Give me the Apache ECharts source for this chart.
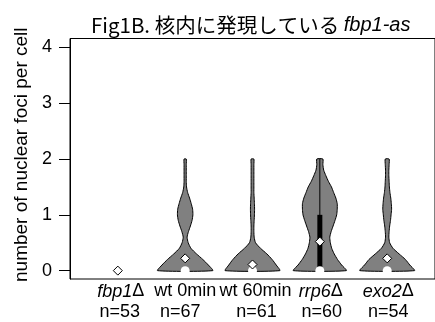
<!DOCTYPE html>
<html><head><meta charset="utf-8">
<script src="https://cdn.jsdelivr.net/npm/echarts@6/dist/echarts.min.js"></script>
<style>html,body{margin:0;padding:0;background:#fff}#c{width:435px;height:322px}</style>
</head><body><div id="c"></div>
<script>
// ---- data ----
const labelItalic  = ['fbp1', '', '', 'rrp6', 'exo2'];
const labelUpright = ['Δ', 'wt 0min', 'wt 60min', 'Δ', 'Δ'];
const counts = [53, 67, 61, 60, 54];
const yLevels = [0,0.1,0.2,0.3,0.4,0.5,0.6,0.7,0.8,0.9,1.0,1.1,1.2,1.3,1.4,1.5,1.6,1.7,1.8,1.9,2.0];
// relative violin half-widths (density) at each yLevel; null = no violin
const densFbp1 = null;
const densWt0  = [1.00,0.84,0.64,0.41,0.21,0.11,0.07,0.12,0.19,0.25,0.28,0.27,0.22,0.16,0.09,0.05,0.04,0.04,0.04,0.04,0.04];
const densWt60 = [0.99,0.86,0.71,0.52,0.29,0.11,0.06,0.05,0.05,0.06,0.07,0.075,0.07,0.06,0.05,0.05,0.05,0.05,0.05,0.05,0.05];
const densRrp6 = [0.96,0.79,0.64,0.52,0.43,0.38,0.36,0.41,0.48,0.55,0.61,0.63,0.63,0.58,0.50,0.42,0.31,0.22,0.14,0.11,0.11];
const densExo2 = [0.99,0.82,0.66,0.43,0.21,0.09,0.06,0.07,0.09,0.12,0.14,0.16,0.15,0.13,0.10,0.08,0.07,0.06,0.06,0.07,0.07];
const means   = [0, 0.22, 0.11, 0.52, 0.22];
const medians = [0, 0, 0, 0, 0];
const q1      = [0, 0, 0, 0, 0];
const q3      = [0, 0, 0, 1, 0];
const whiskLo = [0, 0, 0, 0, 0];
const whiskHi = [0, 0, 0, 2, 0];
const yTicks  = [0, 1, 2, 3, 4];
const xPositions = [1, 2, 3, 4, 5];

const densities = [densFbp1, densWt0, densWt60, densRrp6, densExo2];
const MAX_HALF = 0.41; // category units
const FONT = '"Liberation Sans", Arial, sans-serif';
const FS = 18;
// per-line horizontal nudges of the x labels, in px (style only)
const shiftLine1 = [3, 0, 3, 1, 1];
const shiftLine2 = [2, -5, 4, 2, 1];

const chart = echarts.init(document.getElementById('c'), null, {renderer: 'canvas'});

function renderViolin(params, api) {
  const i = api.value(0);
  const xc = xPositions[i];
  const d = densities[i];
  const children = [];
  if (d) {
    const pts = [];
    for (let k = 0; k < yLevels.length; k++) pts.push(api.coord([xc + d[k] * MAX_HALF, yLevels[k]]));
    for (let k = yLevels.length - 1; k >= 0; k--) pts.push(api.coord([xc - d[k] * MAX_HALF, yLevels[k]]));
    children.push({type: 'polygon', shape: {points: pts, smooth: 0.2}, style: {fill: '#808080', stroke: '#000', lineWidth: 1}});
  }
  if (whiskHi[i] > whiskLo[i]) {
    const a = api.coord([xc, whiskLo[i]]), b = api.coord([xc, whiskHi[i]]);
    children.push({type: 'line', shape: {x1: a[0], y1: a[1], x2: b[0], y2: b[1]}, style: {stroke: '#000', lineWidth: 1}});
  }
  if (q3[i] > q1[i]) {
    const a = api.coord([xc, q1[i]]), b = api.coord([xc, q3[i]]);
    children.push({type: 'rect', shape: {x: a[0] - 2.5, y: b[1], width: 5, height: a[1] - b[1]}, style: {fill: '#000'}});
  }
  if (d) {
    const m = api.coord([xc, medians[i]]);
    children.push({type: 'circle', shape: {cx: m[0], cy: m[1], r: 4.5}, style: {fill: '#fff'}});
  }
  return {type: 'group', children};
}

const rich = {
  i: {fontFamily: FONT, fontStyle: 'italic', fontSize: FS, color: '#000', lineHeight: 21},
  n: {fontFamily: FONT, fontSize: FS, color: '#000', lineHeight: 21}
};
const allShifts = shiftLine1.concat(shiftLine2);
allShifts.forEach(s => {
  const w = Math.abs(s) * 2;
  rich['w' + w] = {width: w, lineHeight: 21, fontSize: FS};
});
function shiftWrap(s, body) {
  if (!s) return body;
  const tok = '{w' + (Math.abs(s) * 2) + '|}';
  return s > 0 ? tok + body : body + tok;
}

chart.setOption({
  animation: false,
  backgroundColor: '#fff',
  title: {
    text: '{a|Fig1B. 核内に発現している }{b|fbp1-as}',
    left: 86, top: 10,
    textStyle: {
      rich: {
        a: {fontFamily: '"Noto Sans CJK JP", sans-serif', fontWeight: 'normal', fontSize: 20.5, color: '#000'},
        b: {fontFamily: FONT, fontStyle: 'italic', fontWeight: 'normal', fontSize: 20, color: '#000'}
      }
    }
  },
  grid: {left: 70, top: 38.5, width: 370, height: 240.5, show: true, borderColor: '#000', borderWidth: 1, containLabel: false},
  xAxis: {
    type: 'value', min: 0.29, max: 5.71,
    axisLine: {show: false}, axisTick: {show: false}, splitLine: {show: false},
    axisLabel: {
      customValues: xPositions, margin: 2,
      formatter: function (v) {
        const i = Math.round(v) - 1;
        const first = (labelItalic[i] ? '{i|' + labelItalic[i] + '}' : '') + '{n|' + labelUpright[i] + '}';
        const second = '{n|n=' + counts[i] + '}';
        return shiftWrap(shiftLine1[i], first) + '\n' + shiftWrap(shiftLine2[i], second);
      },
      rich: rich
    }
  },
  yAxis: {
    type: 'value', min: -0.15, max: 4.16,
    name: '{s|}{t|number of nuclear foci per cell}', nameLocation: 'middle', nameGap: 38,
    nameTextStyle: {
      fontFamily: FONT, fontSize: 19, color: '#000',
      rich: {
        s: {width: 8, fontSize: 19},
        t: {fontFamily: FONT, fontSize: 19, color: '#000'}
      }
    },
    axisLine: {show: true, lineStyle: {color: '#000', width: 1}},
    axisTick: {show: true, customValues: yTicks, length: 11, lineStyle: {color: '#000'}},
    splitLine: {show: false},
    axisLabel: {customValues: yTicks, margin: 18, fontFamily: FONT, fontSize: 18, color: '#000'}
  },
  series: [
    {
      type: 'custom', renderItem: renderViolin,
      data: xPositions.map((x, i) => [i]),
      encode: {x: -1, y: -1}, z: 2
    },
    {
      type: 'scatter', symbol: 'diamond', symbolSize: 9,
      data: xPositions.map((x, i) => [x, means[i]]),
      itemStyle: {color: '#fff', borderColor: '#000', borderWidth: 1, opacity: 1},
      z: 5
    }
  ]
});
</script>
</body></html>
